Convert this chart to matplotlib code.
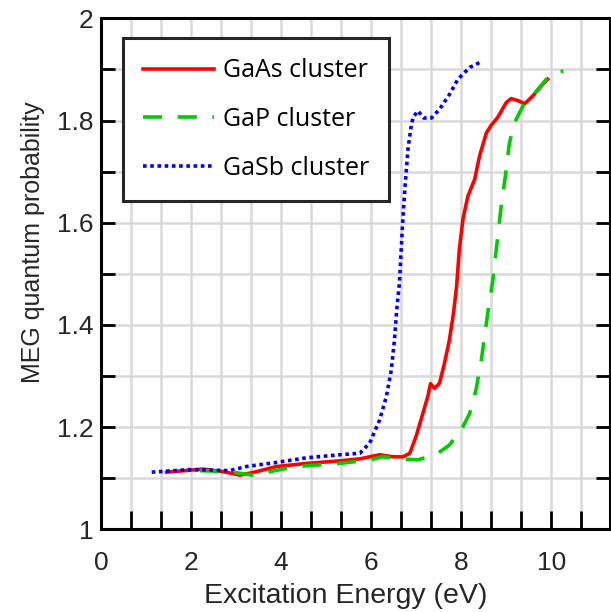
import matplotlib
matplotlib.use("Agg")
import matplotlib.pyplot as plt
import numpy as np

# GaAs cluster (red solid)
gaas_x = [1.46, 2.27, 2.72, 3.09, 3.46, 3.90, 4.56, 5.30, 5.75, 6.19, 6.49, 6.71, 6.86, 7.00, 7.15, 7.26,
          7.32, 7.41, 7.52, 7.63, 7.74, 7.83, 7.90, 7.96, 8.04, 8.15, 8.30, 8.41, 8.56, 8.67, 8.81, 9.00,
          9.11, 9.26, 9.41, 9.59, 9.78, 9.92]
gaas_y = [1.112, 1.118, 1.113, 1.106, 1.113, 1.123, 1.129, 1.134, 1.138, 1.146, 1.142, 1.142, 1.149, 1.182,
          1.227, 1.260, 1.285, 1.276, 1.286, 1.325, 1.371, 1.423, 1.476, 1.548, 1.607, 1.652, 1.685, 1.731,
          1.776, 1.791, 1.806, 1.835, 1.843, 1.839, 1.833, 1.848, 1.868, 1.881]

# GaP cluster (green dashed)
gap_x = [2.20, 2.83, 3.46, 3.75, 4.34, 5.30, 5.97, 6.26, 6.67, 7.04, 7.45, 7.74, 8.04, 8.19, 8.33, 8.45,
         8.52, 8.59, 8.70, 8.78, 8.89, 8.98, 9.07, 9.18, 9.41, 9.63, 9.92, 10.11, 10.27]
gap_y = [1.115, 1.113, 1.105, 1.113, 1.123, 1.129, 1.136, 1.142, 1.138, 1.136, 1.147, 1.165, 1.201, 1.227,
         1.273, 1.332, 1.378, 1.423, 1.485, 1.548, 1.633, 1.690, 1.755, 1.795, 1.835, 1.853, 1.884, 1.894,
         1.897]

# GaSb cluster (blue dotted)
gasb_x = [1.13, 1.98, 2.86, 3.23, 3.90, 4.56, 5.30, 5.75, 5.97, 6.19, 6.34, 6.45, 6.52, 6.57, 6.63, 6.67,
          6.71, 6.76, 6.82, 6.88, 6.93, 7.04, 7.17, 7.34, 7.52, 7.74, 7.93, 8.19, 8.42]
gasb_y = [1.112, 1.117, 1.115, 1.123, 1.131, 1.140, 1.146, 1.149, 1.169, 1.214, 1.260, 1.312, 1.371, 1.430,
          1.482, 1.548, 1.613, 1.678, 1.744, 1.783, 1.806, 1.819, 1.805, 1.805, 1.822, 1.851, 1.881, 1.904,
          1.914]

x_major = [0, 2, 4, 6, 8, 10]
y_major = [1, 1.2, 1.4, 1.6, 1.8, 2]
y_labels = ['1', '1.2', '1.4', '1.6', '1.8', '2']
series_labels = ['GaAs cluster', 'GaP cluster', 'GaSb cluster']

plt.rcParams['font.family'] = ['Liberation Sans', 'DejaVu Sans']

fig = plt.figure(figsize=(6.11, 6.12), dpi=100)
ax = fig.add_axes([0.165, 0.135, 0.833, 0.835])

ax.plot(gaas_x, gaas_y, color='#ff0000', lw=2.6, ls='-', label=series_labels[0], zorder=3)
ax.plot(gap_x, gap_y, color='#00cc00', lw=2.6, ls=(0, (5.3, 4.3)), label=series_labels[1], zorder=3)
ax.plot(gasb_x, gasb_y, color='#0000ff', lw=2.6, ls=(0, (1, 1)), label=series_labels[2], zorder=3)

ax.set_xlim(0, 11.3)
ax.set_ylim(1, 2)
ax.set_xticks(x_major)
ax.set_xticklabels([str(v) for v in x_major])
ax.set_yticks(y_major)
ax.set_yticklabels(y_labels)
ax.set_xticks(np.arange(2/3, 11.3, 2/3), minor=True)
ax.set_yticks(np.arange(1.1, 2.0, 0.2), minor=True)
ax.grid(True, which='both', color='#d9d9d9', lw=1.8, zorder=0)
ax.set_axisbelow(True)
ax.tick_params(which='both', direction='in', length=10, width=2, colors='black',
               labelcolor='#262626', labelsize=19, top=False, right=True)
ax.tick_params(axis='x', which='both', length=13, pad=15.5)
ax.tick_params(axis='y', which='both', pad=5)
for s in ax.spines.values():
    s.set_linewidth(2.2)

ax.set_xlabel('Excitation Energy (eV)', fontsize=20.5, color='#262626')
ax.set_ylabel('MEG quantum probability', fontsize=18, color='#262626')
ax.xaxis.set_label_coords(0.481, -0.104)
ax.yaxis.set_label_coords(-0.110, 0.562)

leg = ax.legend(loc='upper left', bbox_to_anchor=(0.043, 0.961), borderaxespad=0, fontsize=18,
                handlelength=2.85, frameon=True, fancybox=False, edgecolor='#262626', framealpha=1,
                borderpad=0.8, labelspacing=0.95, handletextpad=0.35)
leg.get_frame().set_linewidth(2.2)
for t in leg.get_texts():
    t.set_family(['Open Sans', 'DejaVu Sans'])

fig.savefig('out.png', dpi=100)
